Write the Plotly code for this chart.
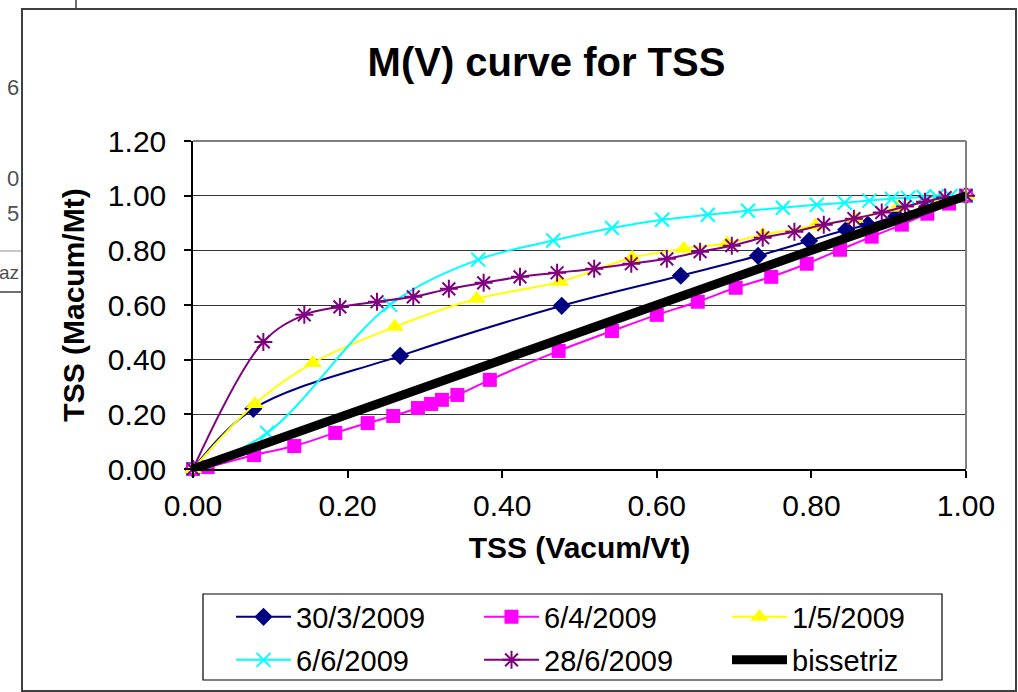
import plotly.graph_objects as go

# ---------------- data ----------------
x_3003 = [0, 0.078, 0.268, 0.477, 0.631, 0.731, 0.797, 0.845, 0.873, 0.910, 0.950, 1.0]
y_3003 = [0, 0.220, 0.414, 0.597, 0.707, 0.780, 0.835, 0.875, 0.894, 0.925, 0.960, 1.0]

x_0604 = [0, 0.019, 0.079, 0.131, 0.184, 0.226, 0.259, 0.291, 0.308, 0.322, 0.342, 0.384,
          0.473, 0.542, 0.600, 0.653, 0.702, 0.748, 0.794, 0.837, 0.878, 0.917, 0.950, 0.978, 1.0]
y_0604 = [0, 0.007, 0.051, 0.084, 0.132, 0.168, 0.194, 0.223, 0.238, 0.253, 0.271, 0.326,
          0.432, 0.505, 0.564, 0.612, 0.663, 0.703, 0.751, 0.802, 0.850, 0.894, 0.934, 0.971, 1.0]

x_0105 = [0, 0.080, 0.155, 0.261, 0.367, 0.475, 0.568, 0.635, 0.691, 0.737, 0.805, 0.856, 0.911, 0.960, 1.0]
y_0105 = [0, 0.238, 0.388, 0.520, 0.623, 0.685, 0.773, 0.806, 0.826, 0.857, 0.890, 0.916, 0.956, 0.980, 1.0]

x_0606 = [0, 0.096, 0.255, 0.369, 0.466, 0.542, 0.607, 0.666, 0.718, 0.763, 0.807, 0.843,
          0.875, 0.904, 0.925, 0.945, 0.962, 0.980, 1.0]
y_0606 = [0, 0.132, 0.601, 0.766, 0.836, 0.882, 0.912, 0.930, 0.945, 0.956, 0.967, 0.974,
          0.982, 0.989, 0.992, 0.995, 0.997, 0.999, 1.0]

x_2806 = [0, 0.091, 0.144, 0.190, 0.238, 0.285, 0.331, 0.376, 0.423, 0.471, 0.519, 0.567,
          0.613, 0.656, 0.697, 0.737, 0.778, 0.816, 0.855, 0.891, 0.921, 0.947, 0.973, 1.0]
y_2806 = [0, 0.465, 0.564, 0.593, 0.612, 0.630, 0.659, 0.681, 0.703, 0.718, 0.733, 0.751,
          0.769, 0.795, 0.817, 0.846, 0.868, 0.894, 0.916, 0.938, 0.960, 0.978, 0.993, 1.0]

x_biss = [0, 1.0]
y_biss = [0, 1.0]

names = ["30/3/2009", "6/4/2009", "1/5/2009", "6/6/2009", "28/6/2009", "bissetriz"]

# ---------------- layout geometry (pixels) ----------------
W, H = 1018, 692
PL, PR, PT, PB = 193, 966, 141, 469   # plot area edges


def px(xp):
    return (xp - PL) / (PR - PL)


def py(yp):
    return (PB - yp) / (PB - PT)


FONT = "Liberation Sans, Arial, sans-serif"

fig = go.Figure()

common = dict(mode="lines+markers", line_shape="spline", cliponaxis=False)

fig.add_trace(go.Scatter(x=x_3003, y=y_3003, name=names[0], legend="legend",
                         line=dict(color="#000080", width=2),
                         marker=dict(symbol="diamond", size=14, color="#000080"), **common))
fig.add_trace(go.Scatter(x=x_0604, y=y_0604, name=names[1], legend="legend",
                         line=dict(color="#FF00FF", width=2),
                         marker=dict(symbol="square", size=14, color="#FF00FF"), **common))
fig.add_trace(go.Scatter(x=x_0105, y=y_0105, name=names[2], legend="legend",
                         line=dict(color="#FFFF00", width=2),
                         marker=dict(symbol="triangle-up", size=16, color="#FFFF00"), **common))
fig.add_trace(go.Scatter(x=x_0606, y=y_0606, name=names[3], legend="legend2",
                         line=dict(color="#00FFFF", width=2),
                         marker=dict(symbol="x-thin", size=14, color="#00FFFF",
                                     line=dict(color="#00FFFF", width=2)), **common))
fig.add_trace(go.Scatter(x=x_2806, y=y_2806, name=names[4], legend="legend2",
                         line=dict(color="#800080", width=2),
                         marker=dict(symbol="asterisk", size=15, color="#800080",
                                     line=dict(color="#800080", width=2)), **common))
fig.add_trace(go.Scatter(x=x_biss, y=y_biss, name=names[5], legend="legend2",
                         mode="lines", cliponaxis=False,
                         line=dict(color="#000000", width=9)))

leg_common = dict(orientation="h", xanchor="left", yanchor="middle",
                  bgcolor="rgba(0,0,0,0)", borderwidth=0,
                  font=dict(family=FONT, size=29, color="#000000"),
                  entrywidth=178, entrywidthmode="pixels", itemwidth=55,
                  traceorder="normal")

fig.update_layout(
    width=W, height=H,
    margin=dict(l=PL, r=W - PR, t=PT, b=H - PB, autoexpand=False),
    paper_bgcolor="white", plot_bgcolor="white",
    font=dict(family=FONT, color="#000000"),
    title=dict(text="<b>M(V) curve for TSS</b>", x=546.5 / W, xanchor="center",
               y=1 - 62 / H, yanchor="middle",
               font=dict(family=FONT, size=40, color="#000000")),
    xaxis=dict(range=[0, 1], dtick=0.2, tick0=0, tickformat=".2f",
               showgrid=False, zeroline=False,
               showline=True, linecolor="#000000", linewidth=1.5,
               ticks="outside", ticklen=7, tickcolor="#000000", tickwidth=1.5,
               tickfont=dict(family=FONT, size=30, color="#000000"),
               ticklabelstandoff=2,
               title=dict(text="<b>TSS (Vacum/Vt)</b>", standoff=16,
                          font=dict(family=FONT, size=30, color="#000000"))),
    yaxis=dict(range=[0, 1.2], dtick=0.2, tick0=0, tickformat=".2f",
               showgrid=True, gridcolor="#333333", gridwidth=1.2, zeroline=False,
               showline=True, linecolor="#000000", linewidth=1.5,
               ticks="outside", ticklen=7, tickcolor="#000000", tickwidth=1.5,
               tickfont=dict(family=FONT, size=30, color="#000000"),
               ticklabelstandoff=12,
               title=dict(text="<b>TSS (Macum/Mt)</b>", standoff=14,
                          font=dict(family=FONT, size=30, color="#000000"))),
    legend=dict(x=px(231), y=py(617), **leg_common),
    legend2=dict(x=px(231), y=py(660), **leg_common),
    showlegend=True,
)

shapes = [
    # plot-area grey border (top and right)
    dict(type="line", xref="paper", yref="paper", x0=0, x1=1, y0=1, y1=1,
         line=dict(color="#808080", width=2), layer="above"),
    dict(type="line", xref="paper", yref="paper", x0=1, x1=1, y0=0, y1=1,
         line=dict(color="#808080", width=2), layer="above"),
    # legend box
    dict(type="rect", xref="paper", yref="paper", x0=px(203), x1=px(942),
         y0=py(680), y1=py(594), line=dict(color="#000000", width=1.2)),
    # chart area frame
    dict(type="rect", xref="paper", yref="paper", x0=px(22), x1=px(1016),
         y0=py(691), y1=py(9), line=dict(color="#404040", width=2)),
    # spreadsheet fragments outside the chart
    dict(type="line", xref="paper", yref="paper", x0=px(76), x1=px(76),
         y0=py(9), y1=py(0), line=dict(color="#404040", width=1.5)),
    dict(type="line", xref="paper", yref="paper", x0=px(0), x1=px(21),
         y0=py(251), y1=py(251), line=dict(color="#909090", width=1)),
    dict(type="line", xref="paper", yref="paper", x0=px(0), x1=px(21),
         y0=py(292), y1=py(292), line=dict(color="#404040", width=1.5)),
]

frag = [("6", 88, 22), ("0", 178, 22), ("5", 213, 22), ("az", 272, 19)]
annotations = [
    dict(text=t, xref="paper", yref="paper", x=px(21), y=py(yy), xanchor="right",
         yanchor="middle", showarrow=False,
         font=dict(family=FONT, size=fs, color="#505050"))
    for t, yy, fs in frag
]

fig.update_layout(shapes=shapes, annotations=annotations)

fig.write_html("out.html")
